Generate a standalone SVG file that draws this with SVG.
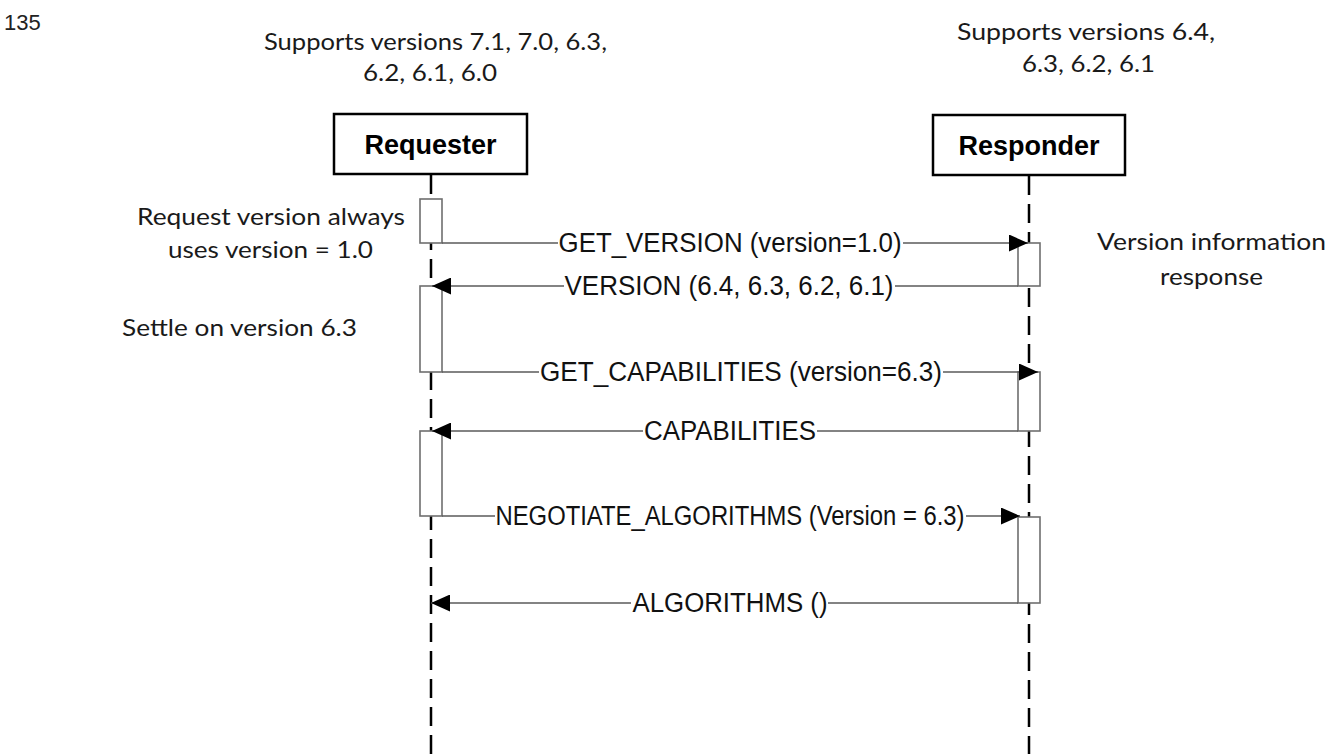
<svg xmlns="http://www.w3.org/2000/svg" width="1340" height="754" viewBox="0 0 1340 754">
<defs>
<style>
.note{font-family:Lato,"Open Sans","Liberation Sans",sans-serif;font-size:24px;fill:#1a1a1a}
.lbl{font-family:"Liberation Sans",Arial,sans-serif;font-size:27px;fill:#111;text-anchor:middle}
.head{font-family:"Liberation Sans",Arial,sans-serif;font-size:27px;font-weight:bold;fill:#000;text-anchor:middle}
.pg{font-family:"Liberation Sans",Arial,sans-serif;font-size:22px;fill:#222}
.box{fill:#fff;stroke:#000;stroke-width:2.5}
.life{stroke:#000;stroke-width:2.5;stroke-dasharray:19 9;fill:none}
.act{fill:#fff;stroke:#6e6e6e;stroke-width:1.6}
.msg{stroke:#5a5a5a;stroke-width:1.6;fill:none;marker-end:url(#ah)}
.bg{fill:#fff}
</style>
<marker id="ah" markerUnits="userSpaceOnUse" markerWidth="19" markerHeight="17" refX="19" refY="8.5" orient="auto">
<path d="M0,0 L19,8.5 L0,17 Z" fill="#000"/>
</marker>
</defs>
<rect width="1340" height="754" fill="#fff"/>
<text class="pg" x="4" y="30">135</text>

<g id="requester">
<text class="note" x="264" y="50" textLength="343" lengthAdjust="spacingAndGlyphs">Supports versions 7.1, 7.0, 6.3,</text>
<text class="note" x="363" y="81" textLength="134" lengthAdjust="spacingAndGlyphs">6.2, 6.1, 6.0</text>
<rect class="box" x="334" y="114" width="193" height="60"/>
<text class="head" x="430.5" y="154">Requester</text>
<line class="life" x1="431" y1="175" x2="431" y2="754"/>
<rect class="act" x="420" y="199" width="22" height="44"/>
<rect class="act" x="420" y="286" width="22" height="86"/>
<rect class="act" x="420" y="431" width="22" height="85"/>
<text class="note" x="137" y="225" textLength="268" lengthAdjust="spacingAndGlyphs">Request version always</text>
<text class="note" x="168" y="258" textLength="205" lengthAdjust="spacingAndGlyphs">uses version = 1.0</text>
<text class="note" x="122" y="336" textLength="235" lengthAdjust="spacingAndGlyphs">Settle on version 6.3</text>
</g>

<g id="responder">
<text class="note" x="957" y="40" textLength="258" lengthAdjust="spacingAndGlyphs">Supports versions  6.4,</text>
<text class="note" x="1022" y="72" textLength="133" lengthAdjust="spacingAndGlyphs">6.3, 6.2, 6.1</text>
<rect class="box" x="933" y="115" width="192" height="60"/>
<text class="head" x="1029" y="155">Responder</text>
<line class="life" x1="1029" y1="176" x2="1029" y2="754"/>
<rect class="act" x="1018" y="243" width="22" height="43"/>
<rect class="act" x="1018" y="372" width="22" height="59"/>
<rect class="act" x="1018" y="517" width="22" height="86"/>
<text class="note" x="1097" y="250" textLength="229" lengthAdjust="spacingAndGlyphs">Version information</text>
<text class="note" x="1160" y="285" textLength="103" lengthAdjust="spacingAndGlyphs">response</text>
</g>

<g id="connectors">
<line class="msg" x1="442" y1="243" x2="1028" y2="243"/>
<rect class="bg" x="558" y="228" width="345" height="30"/>
<text class="lbl" x="730" y="252" textLength="343" lengthAdjust="spacingAndGlyphs">GET_VERSION (version=1.0)</text>

<line class="msg" x1="1018" y1="286" x2="432" y2="286"/>
<rect class="bg" x="564" y="271" width="331" height="30"/>
<text class="lbl" x="729" y="295" textLength="329" lengthAdjust="spacingAndGlyphs">VERSION (6.4, 6.3, 6.2, 6.1)</text>

<line class="msg" x1="442" y1="372" x2="1038" y2="372"/>
<rect class="bg" x="539" y="357" width="404" height="30"/>
<text class="lbl" x="741" y="381" textLength="402" lengthAdjust="spacingAndGlyphs">GET_CAPABILITIES (version=6.3)</text>

<line class="msg" x1="1018" y1="431" x2="432" y2="431"/>
<rect class="bg" x="643" y="416" width="174" height="30"/>
<text class="lbl" x="730" y="440" textLength="172" lengthAdjust="spacingAndGlyphs">CAPABILITIES</text>

<line class="msg" x1="442" y1="516" x2="1020" y2="516"/>
<rect class="bg" x="495" y="501" width="471" height="30"/>
<text class="lbl" x="730" y="525" textLength="469" lengthAdjust="spacingAndGlyphs">NEGOTIATE_ALGORITHMS (Version = 6.3)</text>

<line class="msg" x1="1018" y1="603" x2="431" y2="603"/>
<rect class="bg" x="631" y="588" width="197" height="30"/>
<text class="lbl" x="730" y="612" textLength="195" lengthAdjust="spacingAndGlyphs">ALGORITHMS ()</text>
</g>
</svg>
